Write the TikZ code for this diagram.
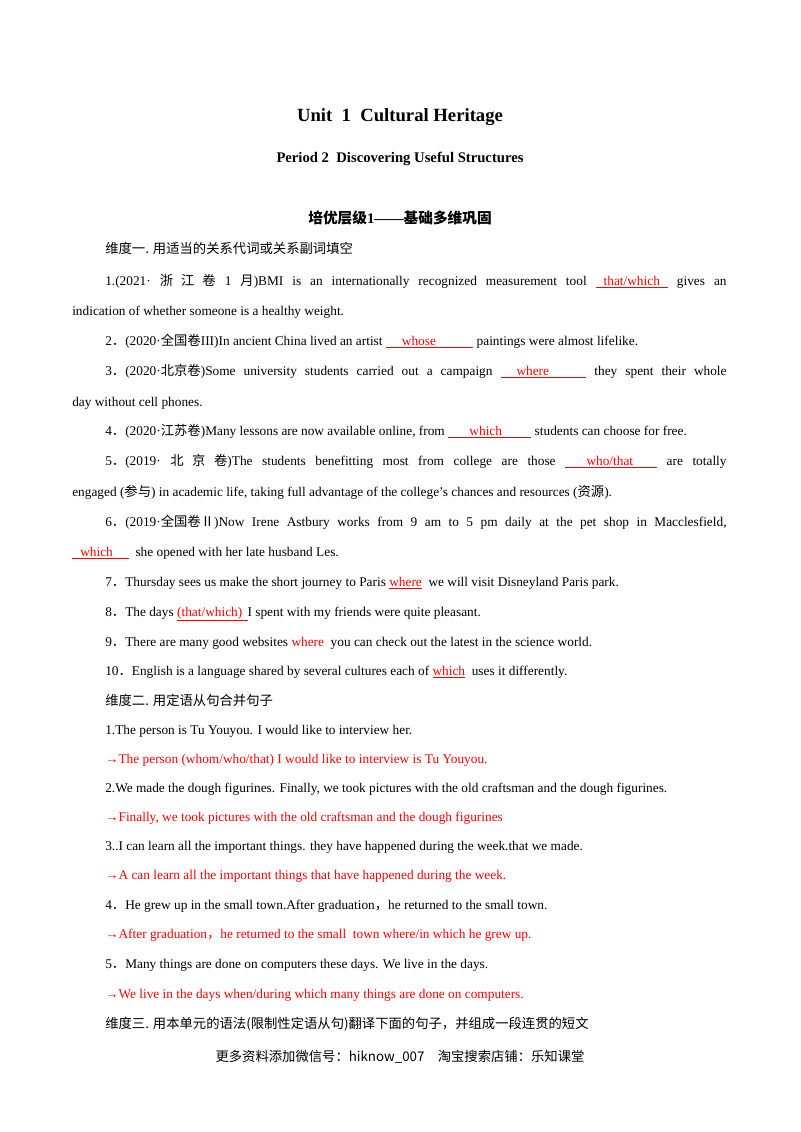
\documentclass[tikz,border=0pt]{standalone}
\usepackage{fontspec}
\setmainfont{Liberation Serif}
\newfontfamily\cjk{Noto Sans CJK SC}
\newcommand{\zh}[1]{{\cjk #1}}
\newcommand{\dt}{{\cjk ．}}
\newcommand{\ans}[3]{\textcolor{red}{\underline{\hspace{#1}#2\hspace{#3}}}}
\begin{document}
\begin{tikzpicture}[x=0.75pt,y=-0.75pt,
  tx/.style={anchor=base west,inner sep=0pt,font=\fontsize{10}{12}\selectfont},
  rd/.style={tx,text=red}]
\useasboundingbox (0,0) rectangle (800,1132);
\node[font=\bfseries\fontsize{14}{16}\selectfont] (t) at (400,117) {Unit\ \ 1\ \ Cultural Heritage};
\node[font=\bfseries\fontsize{11}{13}\selectfont] (p) at (400,159) {Period 2\ \ Discovering Useful Structures};
\node[font=\bfseries\fontsize{11}{13}\selectfont] (h) at (400,218) {\zh{培优层级}1——\zh{基础多维巩固}};
\node[tx] (d1) at (105,253) {\zh{维度一. 用适当的关系代词或关系副词填空}};
\node[tx] (l1) at (105,285) {\makebox[466pt][s]{1.(2021\textperiodcentered\ \zh{浙 江 卷} 1 \zh{月})BMI is an internationally recognized measurement tool \ans{6pt}{that/which}{6pt} gives an}};
\node[tx] (l1b) at (72,315) {indication of whether someone is a healthy weight.};
\node[tx] (l2) at (105,345) {2\dt(2020\textperiodcentered\zh{全国卷}III)In ancient China lived an artist \ans{12pt}{whose}{28pt} paintings were almost lifelike.};
\node[tx] (l3) at (105,375) {\makebox[466pt][s]{3\dt(2020\textperiodcentered\zh{北京卷})Some university students carried out a campaign \ans{12pt}{where}{28pt} they spent their whole}};
\node[tx] (l3b) at (72,406) {day without cell phones.};
\node[tx] (l4) at (105,435) {4\dt(2020\textperiodcentered\zh{江苏卷})Many lessons are now available online, from \ans{16pt}{which}{22pt} students can choose for free.};
\node[tx] (l5) at (105,465) {\makebox[466pt][s]{5\dt (2019\textperiodcentered\ \zh{北 京 卷})The students benefitting most from college are those \ans{16pt}{who/that}{18pt} are totally}};
\node[tx] (l5b) at (72,496) {engaged (\zh{参与}) in academic life, taking full advantage of the college's chances and resources (\zh{资源}).};
\node[tx] (l6) at (105,526) {\makebox[466pt][s]{6\dt(2019\textperiodcentered\zh{全国卷Ⅱ})Now Irene Astbury works from 9 am to 5 pm daily at the pet shop in Macclesfield,}};
\node[tx] (l6b) at (72,556) {\ans{6pt}{which}{12pt}\ \ she opened with her late husband Les.};
\node[tx] (l7) at (105,586) {7\dt Thursday sees us make the short journey to Paris \ans{0pt}{where}{0pt}\ \ we will visit Disneyland Paris park.};
\node[tx] (l8) at (105,616) {8\dt The days \ans{0pt}{(that/which)}{4pt}I spent with my friends were quite pleasant.};
\node[tx] (l9) at (105,646) {9\dt There are many good websites \textcolor{red}{where}\ \ you can check out the latest in the science world.};
\node[tx] (l10) at (105,675) {10\dt English is a language shared by several cultures each of \ans{0pt}{which}{0pt}\ \ uses it differently.};
\node[tx] (d2) at (105,705) {\zh{维度二. 用定语从句合并句子}};
\node[tx] (m1) at (105,734) {1.The person is Tu Youyou. I would like to interview her.};
\node[rd] (m1a) at (105,763) {→The person (whom/who/that) I would like to interview is Tu Youyou.};
\node[tx] (m2) at (105,792) {2.We made the dough figurines. Finally, we took pictures with the old craftsman and the dough figurines.};
\node[rd] (m2a) at (105,821) {→Finally, we took pictures with the old craftsman and the dough figurines};
\node[tx] (m3) at (105,850) {3..I can learn all the important things. they have happened during the week.that we made.};
\node[rd] (m3a) at (105,879) {→A can learn all the important things that have happened during the week.};
\node[tx] (m4) at (105,909) {4\dt He grew up in the small town.After graduation\zh{，}he returned to the small town.};
\node[rd] (m4a) at (105,938) {→After graduation\zh{，}he returned to the small\ \ town where/in which he grew up.};
\node[tx] (m5) at (105,968) {5\dt Many things are done on computers these days. We live in the days.};
\node[rd] (m5a) at (105,998) {→We live in the days when/during which many things are done on computers.};
\node[tx] (d3) at (105,1028) {\zh{维度三. 用本单元的语法(限制性定语从句)翻译下面的句子，并组成一段连贯的短文}};
\node[font=\cjk\fontsize{10}{12}\selectfont] (f) at (400,1057) {更多资料添加微信号：hiknow\_007\quad 淘宝搜索店铺：乐知课堂};
\end{tikzpicture}
\end{document}
